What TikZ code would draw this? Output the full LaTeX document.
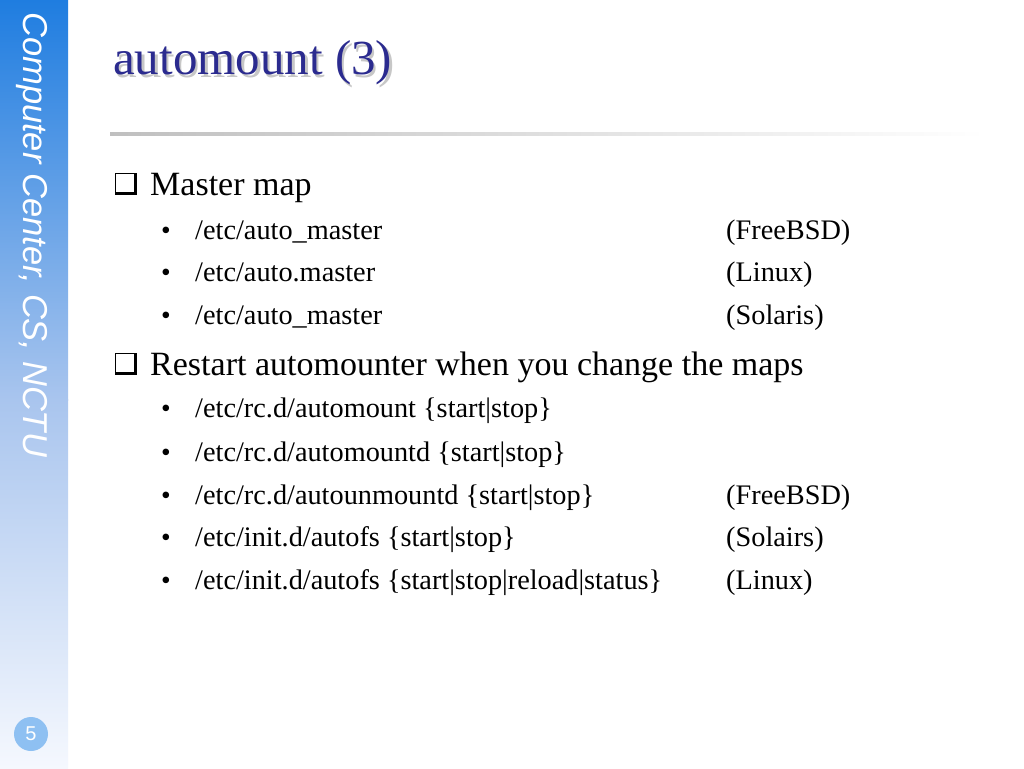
\documentclass[tikz,border=0pt]{standalone}
\usepackage{fontspec}
\setmainfont{Liberation Serif}
\newfontfamily\sidefont{Liberation Sans}
\definecolor{titleblue}{HTML}{2B2B8F}
\definecolor{bartop}{HTML}{1F7DE0}
\definecolor{barmid}{HTML}{A9C5EE}
\definecolor{barbot}{HTML}{F5F8FE}
\definecolor{numblue}{HTML}{8EC0F2}
\newcommand{\shadowtext}[1]{\makebox[0pt][l]{\hspace{2.5pt}\raisebox{-2.5pt}{\color{black!22}#1}}#1}
\begin{document}
\begin{tikzpicture}[x=1pt,y=-1pt,
  bodytext/.style={anchor=base west,inner sep=0pt,font=\fontsize{34}{40}\selectfont},
  subtext/.style={anchor=base west,inner sep=0pt,font=\fontsize{28.3}{32}\selectfont},
  dotmark/.style={anchor=base west,inner sep=0pt,font=\fontsize{27.5}{32}\selectfont}]
\useasboundingbox (0,0) rectangle (1024,768);
\fill[white] (0,0) rectangle (1024,768);
% sidebar
\shade[top color=bartop,bottom color=barmid] (0,0) rectangle (68,400);
\shade[top color=barmid,bottom color=barbot] (0,399.5) rectangle (68,768);
\node[rotate=-90,anchor=base west,inner sep=0pt,text=white,font=\sidefont\itshape\fontsize{34.5}{40}\selectfont] (side) at (23,12) {Computer Center, CS, NCTU};
\node[circle,fill=numblue,minimum size=34pt,inner sep=0pt,text=white,font=\sidefont\fontsize{20}{22}\selectfont] (pnum) at (31,734) {5};
% title
\node[anchor=base west,inner sep=0pt,text=titleblue,font=\fontsize{49}{56}\selectfont] (title) at (113,74.5) {\shadowtext{automount (3)}};
% rule
\shade[left color=black!25,right color=white] (110,132.5) rectangle (985,135.5);
% check boxes
\fill (115,173) rectangle (137,195);
\fill[white] (116.3,174.3) rectangle (133.5,191.5);
\fill (115,353) rectangle (137,375);
\fill[white] (116.3,354.3) rectangle (133.5,371.5);
% level 1
\node[bodytext] (m1) at (150,195) {Master map};
\node[bodytext] (m2) at (150,375) {Restart automounter when you change the maps};
% level 2 group 1
\node[dotmark] (b1) at (161,239) {•};
\node[subtext] (s1) at (195,239) {/etc/auto\_master};
\node[subtext] (r1) at (726,239) {(FreeBSD)};
\node[dotmark] (b2) at (161,281) {•};
\node[subtext] (s2) at (195,281) {/etc/auto.master};
\node[subtext] (r2) at (726,281) {(Linux)};
\node[dotmark] (b3) at (161,324) {•};
\node[subtext] (s3) at (195,324) {/etc/auto\_master};
\node[subtext] (r3) at (726,324) {(Solaris)};
% level 2 group 2
\node[dotmark] (b4) at (161,417) {•};
\node[subtext] (s4) at (195,417) {/etc/rc.d/automount \{start|stop\}};
\node[dotmark] (b5) at (161,461) {•};
\node[subtext] (s5) at (195,461) {/etc/rc.d/automountd \{start|stop\}};
\node[dotmark] (b6) at (161,504) {•};
\node[subtext] (s6) at (195,504) {/etc/rc.d/autounmountd \{start|stop\}};
\node[subtext] (r6) at (726,504) {(FreeBSD)};
\node[dotmark] (b7) at (161,546) {•};
\node[subtext] (s7) at (195,546) {/etc/init.d/autofs \{start|stop\}};
\node[subtext] (r7) at (726,546) {(Solairs)};
\node[dotmark] (b8) at (161,589) {•};
\node[subtext] (s8) at (195,589) {/etc/init.d/autofs \{start|stop|reload|status\}};
\node[subtext] (r8) at (726,589) {(Linux)};
\end{tikzpicture}
\end{document}
